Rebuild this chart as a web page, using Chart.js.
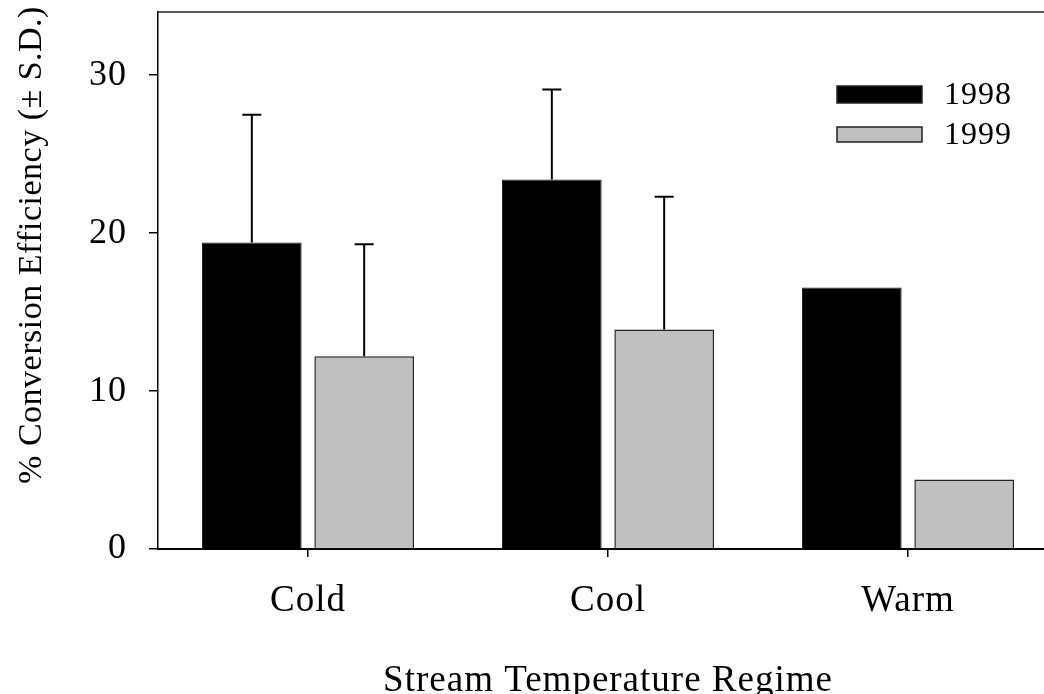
<!DOCTYPE html>
<html>
<head>
<meta charset="utf-8">
<script src="https://cdn.jsdelivr.net/npm/chart.js@4.4.1/dist/chart.umd.min.js"></script>
<style>
  html, body { margin: 0; padding: 0; background: #ffffff; overflow: hidden; }
  #wrap { width: 1044px; height: 694px; overflow: hidden; position: relative; }
  canvas { display: block; }
</style>
</head>
<body>
<div id="wrap"><canvas id="c" width="1080" height="703"></canvas></div>
<script>
// ---- data ----
const categories = ['Cold', 'Cool', 'Warm'];
const seriesLabels = ['1998', '1999'];
const values1998 = [19.4, 23.4, 16.55];
const values1999 = [12.2, 13.9, 4.4];
const sd1998 = [8.1, 5.7, null];
const sd1999 = [7.1, 8.4, null];
const yTicks = [0, 10, 20, 30];
const yMax = 34;
const xTitle = 'Stream Temperature Regime';
const yTitle = '% Conversion Efficiency (\u00B1 S.D.)';

const FONT = "'Liberation Serif', 'Times New Roman', serif";

const letterSpacingPlugin = {
  id: 'letterSpacing',
  beforeDraw(chart) { chart.ctx.letterSpacing = '1px'; }
};

const errorBarPlugin = {
  id: 'errorBars',
  afterDatasetsDraw(chart) {
    const ctx = chart.ctx;
    const y = chart.scales.y;
    ctx.save();
    ctx.strokeStyle = '#000';
    ctx.lineWidth = 2;
    chart.data.datasets.forEach((ds, i) => {
      const meta = chart.getDatasetMeta(i);
      meta.data.forEach((bar, j) => {
        const sd = ds.sd[j];
        if (sd == null) return;
        const top = y.getPixelForValue(ds.data[j] + sd);
        ctx.beginPath();
        ctx.moveTo(bar.x, bar.y);
        ctx.lineTo(bar.x, top);
        ctx.moveTo(bar.x - 9.5, top);
        ctx.lineTo(bar.x + 9.5, top);
        ctx.stroke();
      });
    });
    ctx.restore();
  }
};

const framePlugin = {
  id: 'frame',
  afterDraw(chart) {
    const ctx = chart.ctx;
    const a = chart.chartArea;
    ctx.save();
    ctx.strokeStyle = '#222';
    ctx.lineWidth = 1.5;
    ctx.beginPath();
    ctx.moveTo(a.left, a.top);
    ctx.lineTo(a.right, a.top);
    ctx.stroke();
    // rotated y title
    ctx.letterSpacing = '0.5px';
    ctx.fillStyle = '#000';
    ctx.font = '34px ' + FONT;
    ctx.textAlign = 'center';
    ctx.textBaseline = 'middle';
    ctx.translate(32, 245);
    ctx.rotate(-Math.PI / 2);
    ctx.fillText(yTitle, 0, 0);
    ctx.restore();

    // legend
    ctx.save();
    ctx.letterSpacing = '1px';
    ctx.font = '32px ' + FONT;
    ctx.textAlign = 'left';
    ctx.textBaseline = 'middle';
    const rows = [{y: 86, h: 17}, {y: 127, h: 15}];
    chart.data.datasets.forEach((ds, i) => {
      const r = rows[i];
      ctx.fillStyle = ds.backgroundColor;
      ctx.fillRect(837, r.y, 85, r.h);
      ctx.strokeStyle = '#222';
      ctx.lineWidth = 1.5;
      ctx.strokeRect(837, r.y, 85, r.h);
      ctx.fillStyle = '#000';
      ctx.fillText(ds.label, 944, r.y + r.h / 2 + 1);
    });
    ctx.restore();
  }
};

new Chart(document.getElementById('c'), {
  type: 'bar',
  data: {
    labels: categories,
    datasets: [
      { label: seriesLabels[0], data: values1998, sd: sd1998,
        backgroundColor: '#000000', borderColor: '#222222', borderWidth: 1,
        barPercentage: 0.887, categoryPercentage: 0.749 },
      { label: seriesLabels[1], data: values1999, sd: sd1999,
        backgroundColor: '#c0c0c0', borderColor: '#222222', borderWidth: 1.5,
        barPercentage: 0.887, categoryPercentage: 0.749 }
    ]
  },
  options: {
    responsive: false,
    animation: false,
    devicePixelRatio: 1,
    layout: { padding: { left: 0, top: 12, right: 22, bottom: 0 } },
    plugins: {
      legend: { display: false },
      tooltip: { enabled: false },
      title: { display: false }
    },
    scales: {
      x: {
        offset: true,
        grid: { display: true, offset: false, drawOnChartArea: false, drawTicks: true,
                tickLength: 8, color: '#000', lineWidth: 1.5 },
        border: { display: true, color: '#000', width: 2 },
        ticks: { color: '#000', font: { family: FONT, size: 37 }, padding: 22, maxRotation: 0 },
        title: { display: true, text: xTitle, color: '#000',
                 font: { family: FONT, size: 37, lineHeight: 1.2 }, padding: { top: 0, bottom: 0 } },
        afterFit(scale) {
          scale.height = 703 - 549;
          scale.paddingLeft = 0; scale.paddingRight = 0;
        }
      },
      y: {
        min: 0, max: yMax,
        grid: { display: true, drawOnChartArea: false, drawTicks: true, tickLength: 9,
                color: '#000', lineWidth: 1.5 },
        border: { display: true, color: '#000', width: 1.5 },
        ticks: {
          stepSize: 10, includeBounds: false, color: '#000',
          font: { family: FONT, size: 36 }, padding: 22,
          callback: (v) => yTicks.includes(v) ? String(v) : ''
        },
        afterFit(scale) {
          scale.width = 158;
          scale.paddingTop = 0; scale.paddingBottom = 0;
        }
      }
    }
  },
  plugins: [letterSpacingPlugin, errorBarPlugin, framePlugin]
});
</script>
</body>
</html>
